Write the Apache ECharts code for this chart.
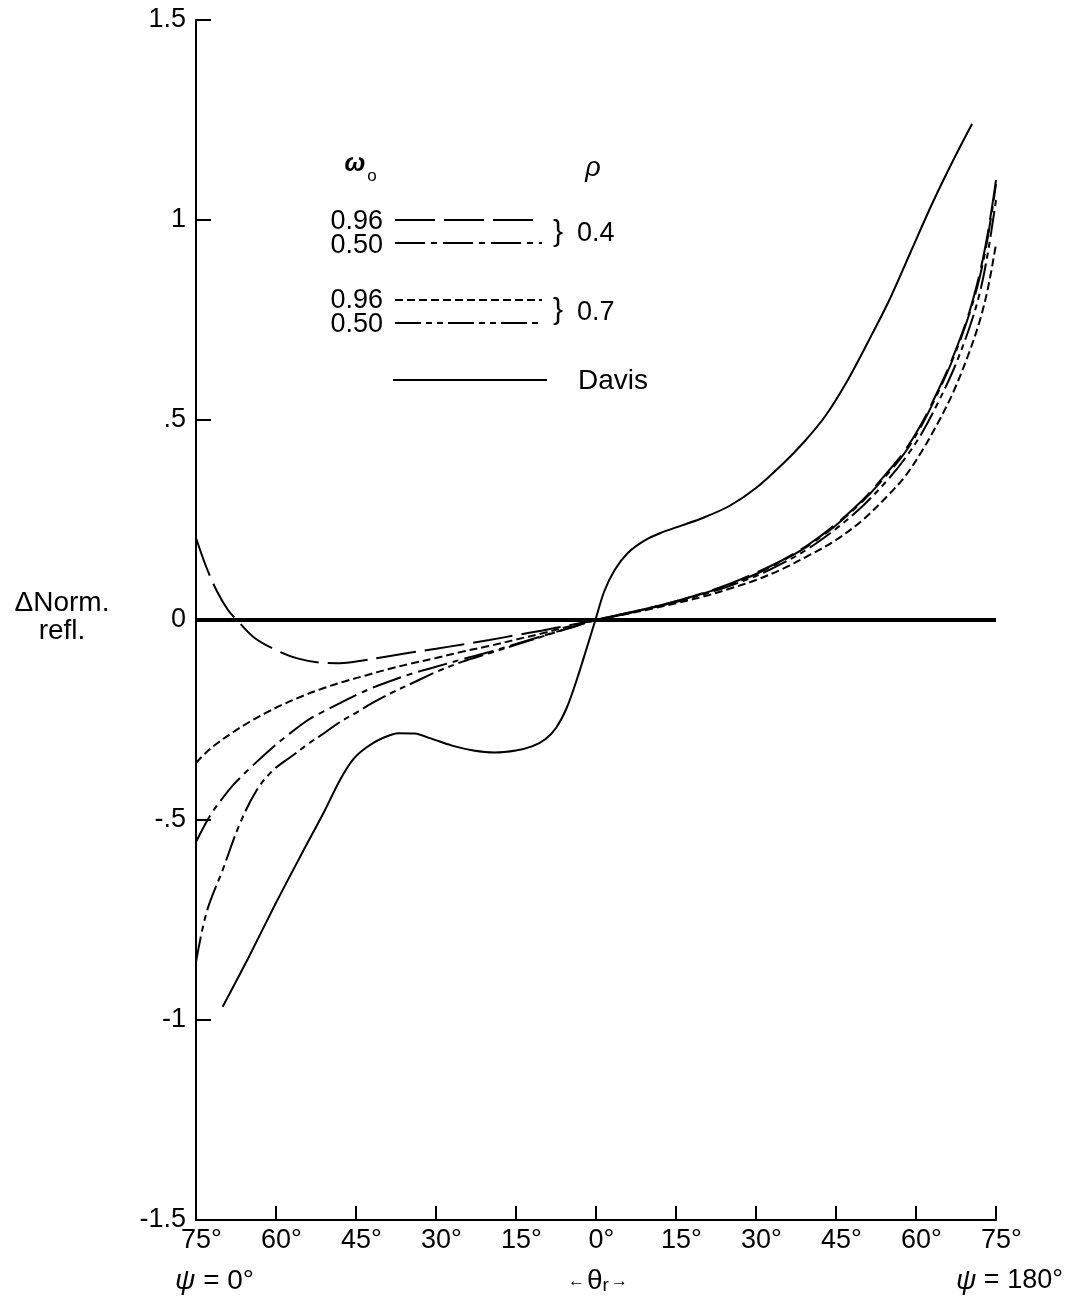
<!DOCTYPE html>
<html>
<head>
<meta charset="utf-8">
<script src="https://cdn.jsdelivr.net/npm/echarts@6/dist/echarts.min.js"></script>
<style>html,body{margin:0;padding:0;background:#fff}#c{width:1086px;height:1305px}</style>
</head>
<body>
<div id="c"></div>
<script>
// ---- data ----
var xTicks = [-75, -60, -45, -30, -15, 0, 15, 30, 45, 60, 75];
var yTickLabels = {'1.5':'1.5','1':'1','0.5':'.5','0':'0','-0.5':'-.5','-1':'-1','-1.5':'-1.5'};

// rho = 0.4, omega0 = 0.96 (long dash)
var a_x = [-75,-73,-71,-69,-67,-64,-60,-56,-52,-48,-44,-40,-35,-30,-25,-20,-15,-10,-5,0,5,10,15,20,25,30,35,40,45,50,55,58,61,64,67,70,72,73.5,75];
var a_y = [0.205,0.13,0.07,0.025,-0.005,-0.045,-0.075,-0.096,-0.106,-0.108,-0.102,-0.093,-0.082,-0.072,-0.061,-0.05,-0.038,-0.026,-0.013,0,0.015,0.03,0.047,0.067,0.09,0.118,0.15,0.19,0.24,0.3,0.375,0.425,0.49,0.57,0.66,0.77,0.87,0.97,1.10];

// rho = 0.4, omega0 = 0.50 (dash-dot)
var b_x = [-75,-72.4,-70,-68,-65,-61,-58,-54,-51,-48,-45,-42,-38,-34,-30,-25,-20,-15,-10,-5,0,5,10,15,20,25,30,35,40,45,50,55,58,61,64,67,70,72,73.5,75];
var b_y = [-0.555,-0.49,-0.445,-0.412,-0.372,-0.323,-0.29,-0.25,-0.228,-0.208,-0.188,-0.17,-0.15,-0.132,-0.117,-0.098,-0.08,-0.06,-0.04,-0.02,0,0.015,0.03,0.047,0.066,0.088,0.115,0.148,0.187,0.237,0.297,0.37,0.42,0.485,0.565,0.655,0.765,0.86,0.96,1.09];

// rho = 0.7, omega0 = 0.96 (short dash)
var c_x = [-75,-73,-71,-68,-65,-62,-59,-55,-51,-47,-43,-39,-35,-30,-25,-20,-15,-10,-5,0,5,10,15,20,25,30,35,40,45,50,55,58,61,64,67,70,72,73.5,75];
var c_y = [-0.357,-0.33,-0.308,-0.28,-0.255,-0.233,-0.213,-0.19,-0.17,-0.153,-0.138,-0.123,-0.11,-0.095,-0.079,-0.065,-0.049,-0.033,-0.016,0,0.013,0.027,0.042,0.058,0.078,0.1,0.128,0.162,0.2,0.25,0.315,0.36,0.42,0.49,0.57,0.67,0.75,0.83,0.94];

// rho = 0.7, omega0 = 0.50 (dash-dot-dot)
var d_x = [-75,-73,-70,-66.8,-63.6,-60.5,-57,-54,-51,-48,-45,-42,-38,-34,-30,-25,-20,-15,-10,-5,0,5,10,15,20,25,30,35,40,45,50,55,58,61,64,67,70,72,73.5,75];
var d_y = [-0.855,-0.73,-0.625,-0.51,-0.425,-0.375,-0.34,-0.31,-0.283,-0.255,-0.232,-0.208,-0.18,-0.155,-0.13,-0.104,-0.083,-0.062,-0.041,-0.02,0,0.014,0.029,0.045,0.063,0.085,0.11,0.142,0.18,0.228,0.285,0.355,0.405,0.465,0.54,0.625,0.73,0.82,0.92,1.05];

// Davis (solid)
var davis_x = [-70,-65,-60,-55,-51,-48,-45.5,-43,-40,-37,-34,-31,-27,-23,-19,-15,-12,-9.5,-7.5,-5.5,-3.5,-1.5,0,1.5,3.5,6,9,12,16,20,25,30,35,39,43,47,51,55,59,63,67,70.5];
var davis_y = [-0.967,-0.84,-0.707,-0.58,-0.48,-0.40,-0.348,-0.318,-0.295,-0.283,-0.284,-0.296,-0.314,-0.326,-0.331,-0.326,-0.316,-0.298,-0.27,-0.22,-0.145,-0.06,0.005,0.07,0.125,0.168,0.198,0.217,0.236,0.255,0.285,0.33,0.39,0.445,0.51,0.595,0.695,0.8,0.92,1.04,1.15,1.24];

// zero reference line
var zero_x = [-75, 75];
var zero_y = [0, 0];

function pairs(xs, ys){ return xs.map(function(x,i){ return [x, ys[i]]; }); }

var FONT = "'Liberation Sans', Arial, sans-serif";
var FS = 27;

var chart = echarts.init(document.getElementById('c'), null, {renderer:'canvas'});

function lineSeries(name, xs, ys, dash, width, smooth){
  return {
    name: name, type: 'line', data: pairs(xs, ys), showSymbol: false, symbol: 'none',
    smooth: smooth, animation: false, silent: true,
    lineStyle: { color: '#000', width: width, type: dash }
  };
}

var dashA = [40, 9];
var dashB = [30, 6, 6, 6];
var dashC = [8, 4];
var dashD = [26, 5, 6, 5, 6, 5];

function txt(x, y, s, font, align){
  return { type: 'text', x: x, y: y, style: { text: s, font: font, fill: '#000', textAlign: align || 'left', textVerticalAlign: 'middle' } };
}
function seg(x1, y1, x2, dash){
  var st = { stroke: '#000', lineWidth: 2 };
  if (dash) st.lineDash = dash;
  return { type: 'line', shape: { x1: x1, y1: y1, x2: x2, y2: y1 }, style: st };
}

var F = FS + 'px ' + FONT;

var option = {
  backgroundColor: '#fff',
  animation: false,
  grid: { left: 196, right: 90, top: 20, bottom: 85, containLabel: false },
  xAxis: {
    type: 'value', min: -75, max: 75, interval: 15,
    axisLine: { show: true, onZero: false, lineStyle: { color: '#000', width: 2 } },
    axisTick: { show: true, inside: true, length: 14, lineStyle: { color: '#000', width: 2 } },
    axisLabel: { color: '#000', fontFamily: FONT, fontSize: FS, margin: 7, padding: [0, 0, 0, 11],
      formatter: function(v){ return Math.abs(v) + '°'; } },
    splitLine: { show: false }
  },
  yAxis: {
    type: 'value', min: -1.5, max: 1.5, interval: 0.5,
    axisLine: { show: true, onZero: false, lineStyle: { color: '#000', width: 2 } },
    axisTick: { show: true, inside: true, length: 15, lineStyle: { color: '#000', width: 2 } },
    axisLabel: { color: '#000', fontFamily: FONT, fontSize: FS, margin: 10,
      formatter: function(v){ var k = String(Math.round(v*10)/10); return yTickLabels[k] !== undefined ? yTickLabels[k] : k; } },
    splitLine: { show: false }
  },
  series: [
    lineSeries('zero', zero_x, zero_y, 'solid', 4, false),
    lineSeries('ω0=0.96 ρ=0.4', a_x, a_y, dashA, 2, 0.35),
    lineSeries('ω0=0.50 ρ=0.4', b_x, b_y, dashB, 2, 0.35),
    lineSeries('ω0=0.96 ρ=0.7', c_x, c_y, dashC, 2, 0.35),
    lineSeries('ω0=0.50 ρ=0.7', d_x, d_y, dashD, 2, 0.35),
    lineSeries('Davis', davis_x, davis_y, 'solid', 2, 0.3)
  ],
  graphic: [
    // y-axis name
    txt(62, 603, 'ΔNorm.', '28px ' + FONT, 'center'),
    txt(62, 631, 'refl.', '28px ' + FONT, 'center'),
    // bottom labels
    { type: 'text', x: 175, y: 1281, style: { text: '{i|ψ} = 0°', rich: { i: { fontStyle: 'italic', fontSize: 28, fontFamily: FONT } }, font: '28px ' + FONT, fill: '#000', textAlign: 'left', textVerticalAlign: 'middle' } },
    { type: 'text', x: 598, y: 1281, style: { text: '{s|←}{t|θ}{r|r}{s|→}', rich: { s: { fontSize: 17, fontFamily: FONT, padding:[0,2,0,2] }, t: { fontSize: 28, fontFamily: FONT }, r: { fontSize: 19, fontFamily: FONT, padding: [10,0,0,0] } }, font: '28px ' + FONT, fill: '#000', textAlign: 'center', textVerticalAlign: 'middle' } },
    { type: 'text', x: 956, y: 1281, style: { text: '{i|ψ} = 180°', rich: { i: { fontStyle: 'italic', fontSize: 28, fontFamily: FONT } }, font: '27px ' + FONT, fill: '#000', textAlign: 'left', textVerticalAlign: 'middle' } },
    // legend headers
    txt(355, 164, 'ω', 'italic bold 25px ' + FONT, 'center'),
    txt(372, 176, 'o', '17px ' + FONT, 'center'),
    txt(593, 168, 'ρ', 'italic 27px ' + FONT, 'center'),
    // legend rows
    txt(383, 222, '0.96', F, 'right'), seg(395, 220, 542, dashA),
    txt(383, 246, '0.50', F, 'right'), seg(395, 243, 542, dashB),
    txt(558, 233, '}', '30px ' + FONT, 'center'),
    txt(577, 234, '0.4', F),
    txt(383, 301, '0.96', F, 'right'), seg(395, 300, 542, dashC),
    txt(383, 325, '0.50', F, 'right'), seg(395, 323, 542, dashD),
    txt(558, 311, '}', '30px ' + FONT, 'center'),
    txt(577, 313, '0.7', F),
    seg(393, 380, 547, null),
    txt(578, 381, 'Davis', '28px ' + FONT)
  ]
};
chart.setOption(option);
</script>
</body>
</html>
